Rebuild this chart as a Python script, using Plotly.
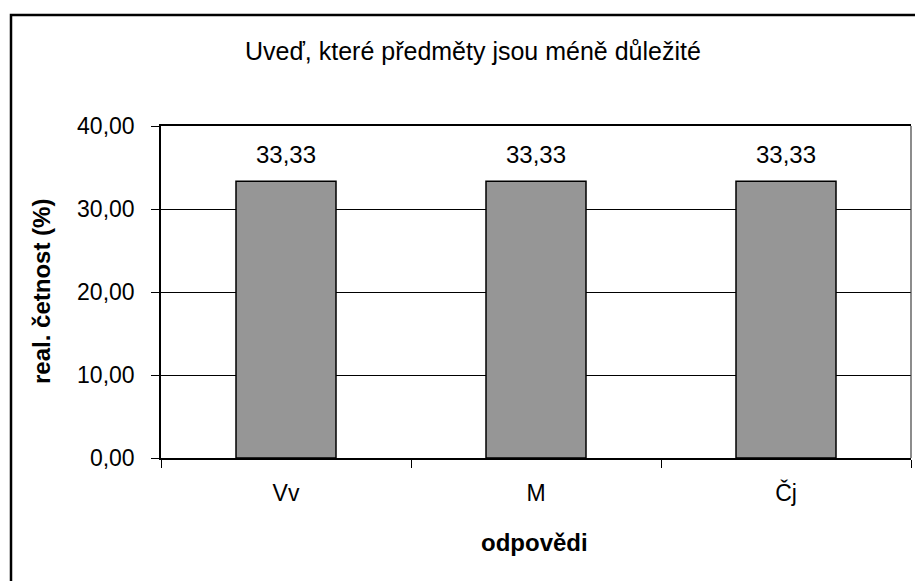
import plotly.graph_objects as go

categories = ["Vv", "M", "Čj"]
values = [33.33, 33.33, 33.33]
title_text = "Uveď, které předměty jsou méně důležité"
x_title = "odpovědi"
y_title = "real. četnost (%)"
y_ticks = [0, 10, 20, 30, 40]

FONT = "Liberation Sans, Arial, sans-serif"
W, H = 915, 581
L, R, T, B = 161, 4, 126, 123
pw, ph = W - L - R, H - T - B

fig = go.Figure()
fig.add_trace(go.Bar(
    x=categories, y=values, width=0.4,
    marker=dict(color="#969696", line=dict(color="black", width=1.5)),
    hoverinfo="skip",
))

annotations = []
for c, v in zip(categories, values):
    annotations.append(dict(
        x=c, y=v, xref="x", yref="y", text=f"{v:.2f}".replace(".", ","),
        showarrow=False, yanchor="middle", yshift=27,
        font=dict(family=FONT, size=24, color="black"),
    ))

annotations.append(dict(
    x=(473 - L) / pw, y=(H - B - 51) / ph, xref="paper", yref="paper",
    text=title_text, showarrow=False, xanchor="center", yanchor="middle",
    font=dict(family=FONT, size=25, color="black"),
))
annotations.append(dict(
    x=(534 - L) / pw, y=(H - B - 542) / ph, xref="paper", yref="paper",
    text=f"<b>{x_title}</b>", showarrow=False, xanchor="center", yanchor="middle",
    font=dict(family=FONT, size=24, color="black"),
))
annotations.append(dict(
    x=(41 - L) / pw, y=(H - B - 292) / ph, xref="paper", yref="paper",
    text=f"<b>{y_title}</b>", showarrow=False, xanchor="center", yanchor="middle",
    textangle=-90,
    font=dict(family=FONT, size=24, color="black"),
))

shapes = [
    # outer chart frame (clipped at right/bottom in the reference)
    dict(type="rect", xref="paper", yref="paper",
         x0=(11 - L) / pw, x1=(W + 20 - L) / pw,
         y0=(H - B - (H + 20)) / ph, y1=(H - B - 15) / ph,
         line=dict(color="black", width=2.5), fillcolor="rgba(0,0,0,0)", layer="below"),
    # right plot-area border
    dict(type="line", xref="paper", yref="paper", x0=1, x1=1, y0=0, y1=1,
         line=dict(color="#404040", width=1.2)),
]

fig.update_layout(
    width=W, height=H,
    margin=dict(l=L, r=R, t=T, b=B, pad=0),
    paper_bgcolor="white", plot_bgcolor="white",
    separators=",.",
    showlegend=False,
    font=dict(family=FONT, size=23, color="black"),
    annotations=annotations,
    shapes=shapes,
    bargap=0.6,
)
fig.update_xaxes(
    type="category", range=[-0.5, 2.5],
    showline=True, linecolor="black", linewidth=1.5, mirror=True,
    ticks="outside", tickson="boundaries", ticklen=8, tickcolor="black", tickwidth=1.2,
    showgrid=False, tickfont=dict(family=FONT, size=23, color="black"),
    ticklabelstandoff=14,
)
fig.update_yaxes(
    range=[0, 40], tickvals=y_ticks, tickformat=".2f",
    showline=True, linecolor="black", linewidth=1.5,
    ticks="outside", ticklen=8, tickcolor="black", tickwidth=1.2,
    showgrid=True, gridcolor="black", gridwidth=1.2, zeroline=False,
    tickfont=dict(family=FONT, size=23, color="black"),
    ticklabelstandoff=12,
)

fig.write_html(
    "out.html",
    config={"displayModeBar": False},
    post_script="document.body.style.margin='0';document.body.style.overflow='hidden';",
)
